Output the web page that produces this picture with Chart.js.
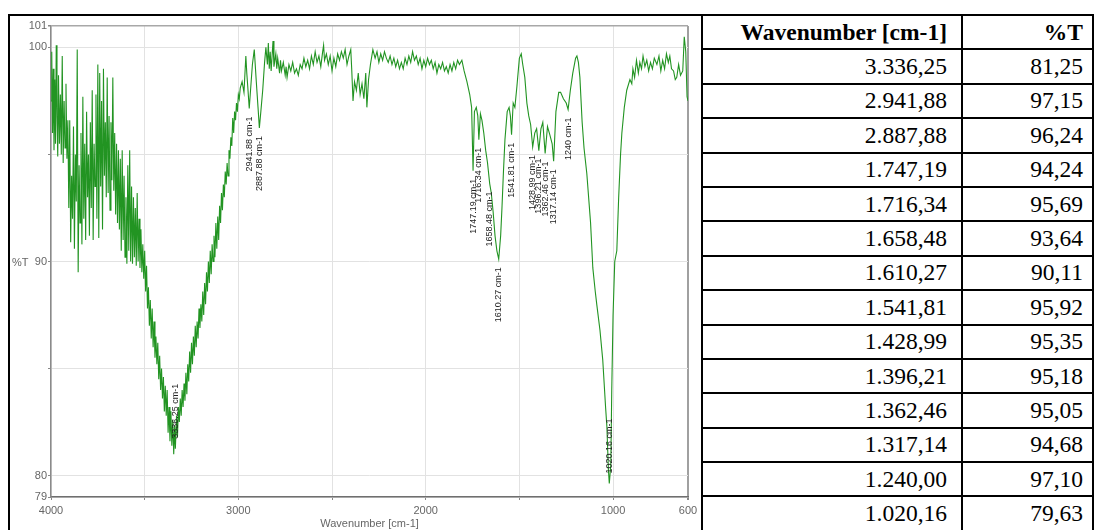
<!DOCTYPE html>
<html>
<head>
<meta charset="utf-8">
<script src="https://cdn.jsdelivr.net/npm/chart.js@4.4.1/dist/chart.umd.min.js"></script>
<style>
  html, body { margin: 0; padding: 0; background: #fff; overflow: hidden; }
  body { width: 1100px; height: 530px; position: relative; }
  #sheet {
    position: absolute; left: 8px; top: 14px;
    border-collapse: separate; border-spacing: 0; table-layout: fixed;
    border-left: 2px solid #000; border-top: 2px solid #000;
    font-family: "Liberation Serif", "Times New Roman", serif;
    font-size: 23.5px; color: #000;
  }
  #sheet td, #sheet th {
    border-right: 2px solid #000; border-bottom: 2px solid #000;
    padding: 0 14px 0 0; text-align: right; white-space: nowrap;
    vertical-align: middle; overflow: hidden;
  }
  #sheet td.t, #sheet th.t { padding-right: 9px; }
  #sheet th { font-weight: bold; }
  #sheet tr { height: 34.4px; }
  #sheet td.plot { padding: 0; vertical-align: top; }
  #chartBox { position: absolute; left: 10px; top: 17px; width: 692px; height: 513px; }
  #spectrum { filter: blur(0.35px); }
</style>
</head>
<body>
<table id="sheet">
  <colgroup><col style="width:693px"><col style="width:260px"><col style="width:131px"></colgroup>
  <tbody id="rows"></tbody>
</table>
<div id="chartBox"><canvas id="spectrum" width="692" height="513"></canvas></div>

<script>
// ======================================
// DATA
// ======================================
// IR spectrum (wavenumber in cm-1, %T)
const wavenumber = [
  4000, 3996, 3992, 3988, 3984, 3980, 3976, 3972, 3968, 3964,
  3960, 3955, 3950, 3945, 3940, 3935, 3930, 3925, 3920, 3915,
  3910, 3905, 3900, 3895, 3890, 3885, 3880, 3875, 3870, 3865,
  3860, 3855, 3850, 3845, 3840, 3835, 3830, 3825, 3820, 3815,
  3810, 3805, 3800, 3795, 3790, 3785, 3780, 3775, 3770, 3765,
  3760, 3755, 3750, 3745, 3740, 3735, 3730, 3725, 3720, 3715,
  3710, 3705, 3700, 3695, 3690, 3685, 3680, 3675, 3670, 3665,
  3660, 3655, 3650, 3645, 3640, 3635, 3630, 3625, 3620, 3615,
  3610, 3605, 3600, 3595, 3590, 3585, 3580, 3575, 3570, 3565,
  3560, 3555, 3550, 3545, 3540, 3535, 3530, 3525, 3520, 3515,
  3510, 3505, 3500, 3495, 3490, 3485, 3480, 3475, 3470, 3465,
  3460, 3455, 3450, 3445, 3440, 3435, 3430, 3425, 3420, 3415,
  3410, 3405, 3400, 3395, 3390, 3385, 3380, 3375, 3370, 3365,
  3360, 3355, 3350, 3345, 3340, 3336.25, 3330, 3325, 3320, 3315,
  3310, 3305, 3300, 3295, 3290, 3285, 3280, 3275, 3270, 3265,
  3260, 3255, 3250, 3245, 3240, 3235, 3230, 3225, 3220, 3215,
  3210, 3205, 3200, 3195, 3190, 3185, 3180, 3175, 3170, 3165,
  3160, 3155, 3150, 3145, 3140, 3135, 3130, 3125, 3120, 3115,
  3110, 3105, 3100, 3095, 3090, 3085, 3080, 3075, 3070, 3065,
  3060, 3055, 3050, 3045, 3040, 3035, 3030, 3025, 3020, 3015,
  3010, 3005, 3000, 2995, 2990, 2980, 2970, 2960, 2955, 2950,
  2941.88, 2935, 2925, 2915, 2905, 2895, 2887.88, 2880, 2870, 2860,
  2853, 2845, 2840, 2835, 2830, 2825, 2820, 2815, 2810, 2800,
  2795, 2790, 2780, 2775, 2770, 2760, 2750, 2745, 2740, 2730,
  2720, 2710, 2700, 2690, 2680, 2670, 2660, 2650, 2640, 2630,
  2620, 2610, 2600, 2590, 2580, 2570, 2560, 2550, 2545, 2540,
  2530, 2520, 2510, 2500, 2490, 2480, 2470, 2460, 2450, 2440,
  2430, 2420, 2410, 2400, 2395, 2388, 2380, 2370, 2360, 2350,
  2340, 2330, 2320, 2314, 2305, 2295, 2282, 2270, 2260, 2250,
  2240, 2230, 2220, 2210, 2200, 2190, 2180, 2170, 2160, 2150,
  2140, 2130, 2120, 2110, 2100, 2090, 2080, 2070, 2060, 2050,
  2040, 2030, 2020, 2010, 2000, 1990, 1980, 1970, 1960, 1950,
  1940, 1930, 1920, 1910, 1900, 1890, 1880, 1870, 1860, 1850,
  1840, 1830, 1820, 1807, 1795, 1780, 1765, 1755, 1747.19, 1740,
  1730, 1722, 1716.34, 1708, 1700, 1690, 1680, 1670, 1658.48, 1650,
  1640, 1630, 1620, 1610.27, 1600, 1593, 1585, 1577, 1565, 1555,
  1548, 1541.81, 1533, 1524, 1513, 1500, 1490, 1482, 1471, 1460,
  1450, 1440, 1428.99, 1418, 1408, 1396.21, 1385, 1375, 1362.46, 1350,
  1337, 1325, 1317.14, 1305, 1290, 1280, 1265, 1250, 1240, 1228,
  1215, 1200, 1193, 1185, 1177, 1165, 1155, 1140, 1120, 1108,
  1095, 1087, 1070, 1055, 1040, 1033, 1025, 1020.16, 1012, 1007,
  1000, 991, 980, 970, 960, 953, 940, 927, 910, 900,
  894, 885, 875, 865, 857, 848, 840, 830, 820, 810,
  800, 790, 780, 766, 755, 745, 735, 725, 715, 705,
  697, 688, 677, 668, 660, 650, 640, 628, 620, 612,
  605, 600
];
const transmittance = [
  97.5, 99.8, 96.0, 99.0, 95.2, 98.5, 95.5, 100.1, 96.8, 94.9,
  98.7, 95.5, 97.8, 95.0, 99.6, 94.6, 97.5, 95.3, 98.3, 94.8,
  96.6, 92.5, 96.6, 90.9, 94.0, 92.0, 96.3, 90.6, 95.0, 92.8,
  99.9, 89.5, 94.5, 91.8, 96.0, 90.8, 97.7, 92.0, 95.5, 91.0,
  97.0, 93.0, 95.0, 91.2, 96.5, 92.5, 98.0, 91.0, 95.5, 93.5,
  97.8, 92.0, 99.2, 91.1, 98.8, 93.5, 97.5, 91.5, 99.0, 94.0,
  96.5, 93.0, 98.6, 93.2, 96.8, 92.4, 96.5, 93.8, 98.6, 93.3,
  96.0, 92.2, 95.5, 91.8, 95.2, 91.5, 94.8, 90.5, 95.2, 91.0,
  94.0, 90.2, 93.0, 89.9, 94.5, 90.5, 95.2, 90.0, 93.5, 89.9,
  93.0, 90.2, 92.5, 89.8, 93.2, 90.0, 92.0, 89.7, 91.5, 89.5,
  90.8, 89.2, 90.5, 88.6, 89.8, 87.8, 88.8, 87.0, 88.2, 86.4,
  87.8, 86.0, 87.2, 85.5, 86.5, 85.2, 86.2, 84.5, 85.6, 84.0,
  85.0, 83.6, 84.6, 83.0, 84.2, 82.8, 84.0, 82.0, 83.2, 81.6,
  83.0, 81.4, 82.6, 81.0, 82.3, 81.25, 82.8, 81.8, 83.2, 82.5,
  83.6, 82.8, 84.0, 83.2, 84.3, 83.5, 84.8, 83.8, 85.2, 84.4,
  85.8, 84.8, 86.2, 85.2, 86.5, 85.6, 87.0, 86.0, 87.2, 86.4,
  87.8, 86.9, 88.0, 87.2, 88.6, 87.5, 89.0, 88.0, 89.5, 88.6,
  90.0, 89.0, 90.5, 89.4, 90.8, 90.0, 91.2, 90.2, 91.8, 90.6,
  92.1, 91.0, 92.6, 91.8, 93.2, 92.4, 93.6, 93.0, 94.2, 93.6,
  94.6, 94.0, 95.2, 94.8, 95.8, 95.4, 96.7, 96.0, 97.0, 96.6,
  97.4, 97.0, 97.8, 97.6, 98.1, 98.4, 97.9, 99.6, 98.8, 98.2,
  97.15, 98.0, 99.2, 99.9, 98.5, 97.2, 96.24, 97.0, 98.0, 99.3,
  100.0, 99.2, 100.2, 99.0, 99.8, 98.9, 99.6, 100.3, 99.1, 99.7,
  99.0, 99.5, 98.8, 99.4, 98.9, 99.3, 98.7, 99.1, 98.6, 99.2,
  98.9, 99.3, 98.8, 99.0, 98.7, 99.2, 99.0, 99.5, 99.1, 99.4,
  99.0, 99.6, 99.2, 99.8, 99.3, 99.6, 99.1, 99.8, 100.1, 99.4,
  99.7, 99.2, 99.6, 98.9, 99.5, 99.1, 99.7, 99.4, 99.8, 99.5,
  99.9, 99.2, 99.6, 99.9, 99.0, 97.5, 98.4, 98.0, 98.8, 97.8,
  98.3, 97.6, 98.8, 97.2, 98.5, 99.2, 99.9, 99.5, 99.8, 99.3,
  99.7, 99.4, 99.8, 99.5, 99.3, 99.6, 99.2, 99.5, 99.1, 99.4,
  99.0, 99.3, 99.0, 99.5, 99.2, 99.6, 99.3, 99.8, 99.4, 99.6,
  99.2, 99.5, 99.0, 99.4, 99.1, 99.5, 99.2, 99.4, 99.0, 99.3,
  98.8, 99.2, 99.0, 99.3, 98.9, 99.1, 98.8, 99.2, 98.9, 99.3,
  99.0, 99.4, 99.2, 99.4, 98.9, 98.4, 97.8, 97.2, 94.24, 97.0,
  97.2, 96.8, 95.69, 96.9, 96.6, 96.0, 95.2, 94.6, 93.64, 93.2,
  92.3, 91.2, 90.5, 90.11, 91.2, 92.5, 94.2, 95.7, 97.0, 97.2,
  96.8, 95.92, 97.4, 97.2, 98.2, 99.5, 99.7, 99.2, 98.6, 97.4,
  96.8, 96.4, 95.35, 96.0, 96.2, 95.18, 96.2, 96.5, 95.05, 96.3,
  95.9, 95.5, 94.68, 97.0, 97.9, 97.9, 97.6, 97.4, 97.10, 98.0,
  98.8, 99.5, 99.6, 99.3, 98.6, 96.5, 95.3, 94.1, 91.8, 89.7,
  88.6, 88.0, 86.8, 85.4, 83.2, 82.3, 80.3, 79.63, 80.5, 84.0,
  87.5, 90.0, 90.5, 93.0, 95.0, 96.0, 97.2, 98.0, 98.5, 98.3,
  99.0, 98.6, 99.4, 98.8, 99.3, 99.0, 99.6, 99.1, 99.4, 98.9,
  99.3, 99.0, 99.5, 99.2, 99.6, 98.9, 99.4, 99.0, 99.7, 99.3,
  99.6, 99.0, 98.9, 98.5, 98.6, 99.2, 98.7, 98.9, 100.5, 99.8,
  97.7, 97.5
];

// picked peaks (also the table on the right)
const peakWn = [3336.25, 2941.88, 2887.88, 1747.19, 1716.34, 1658.48, 1610.27,
                1541.81, 1428.99, 1396.21, 1362.46, 1317.14, 1240.00, 1020.16];
const peakT = [81.25, 97.15, 96.24, 94.24, 95.69, 93.64, 90.11,
               95.92, 95.35, 95.18, 95.05, 94.68, 97.10, 79.63];

// axis ticks
const xTicks = [4000, 3500, 3000, 2500, 2000, 1500, 1000, 600];
const xLabeled = [4000, 3000, 2000, 1000, 600];
const yTicks = [79, 80, 85, 90, 95, 100, 101];
const yLabeled = [79, 80, 90, 100, 101];

// ======================================
// TABLE
// ======================================
const euro = (v) => {
    const [int, dec] = v.toFixed(2).split(".");
    return int.replace(/\B(?=(\d{3})+(?!\d))/g, ".") + "," + dec;
};

const rows = document.getElementById("rows");
let html = '<tr><td class="plot" rowspan="' + (peakWn.length + 1) + '"></td>' +
           '<th>Wavenumber [cm-1]</th><th class="t">%T</th></tr>';
peakWn.forEach((wn, i) => {
    html += `<tr><td>${euro(wn)}</td><td class="t">${euro(peakT[i])}</td></tr>`;
});
rows.innerHTML = html;

// ======================================
// CHART
// ======================================
if (wavenumber.length !== transmittance.length) console.warn("length mismatch");
const points = wavenumber.map((wn, i) => ({ x: wn, y: transmittance[i] }));

const peakText = (wn) => (Number.isInteger(wn) ? String(wn) : wn.toFixed(2)) + " cm-1";

const extras = {
    id: "extras",
    afterDatasetsDraw(chart) {
        const { ctx, chartArea, scales: { x, y } } = chart;
        ctx.save();
        ctx.font = '9px "Liberation Sans", Arial, sans-serif';
        ctx.fillStyle = "#222";
        ctx.textBaseline = "middle";
        peakWn.forEach((wn, i) => {
            const px = x.getPixelForValue(wn);
            const py = y.getPixelForValue(peakT[i]);
            const text = peakText(wn);
            const w = ctx.measureText(text).width;
            ctx.save();
            ctx.translate(px, py);
            ctx.rotate(-Math.PI / 2);
            if (py + 8 + w < chartArea.bottom) {
                ctx.textAlign = "right";
                ctx.fillText(text, -8, 0);
            } else {
                ctx.textAlign = "left";
                ctx.fillText(text, 10, 0);
            }
            ctx.restore();
        });

        // axis titles
        ctx.fillStyle = "#666";
        ctx.font = '11px "Liberation Sans", Arial, sans-serif';
        ctx.textAlign = "center";
        ctx.fillText("Wavenumber [cm-1]", (chartArea.left + chartArea.right) / 2, chart.height - 6);
        ctx.textAlign = "left";
        ctx.fillText("%T", 2, y.getPixelForValue(90) + 1);
        ctx.restore();
    }
};

const tickFont = { family: '"Liberation Sans", Arial, sans-serif', size: 11 };

new Chart(document.getElementById("spectrum"), {
    type: "line",
    data: {
        datasets: [{
            data: points,
            borderColor: "#229422",
            borderWidth: 1.1,
            pointRadius: 0,
            tension: 0,
            fill: false
        }]
    },
    options: {
        responsive: false,
        animation: false,
        devicePixelRatio: 1,
        layout: { padding: { top: 9, right: 14, left: 0, bottom: 0 } },
        plugins: { legend: { display: false }, tooltip: { enabled: false } },
        scales: {
            x: {
                type: "linear",
                reverse: true,
                min: 600,
                max: 4000,
                afterBuildTicks: (s) => { s.ticks = xTicks.map(v => ({ value: v })); },
                afterFit: (s) => { s.height = 33; },
                ticks: {
                    autoSkip: false, maxRotation: 0, padding: 4,
                    color: "#666", font: tickFont,
                    callback: (v) => xLabeled.includes(v) ? String(v) : ""
                },
                grid: {
                    color: (c) => (c.tick && c.tick.value === 600) ? "#a0a0a0" : "#e2e2e2",
                    lineWidth: (c) => (c.tick && c.tick.value === 600) ? 2 : 1,
                    tickLength: 3,
                    tickColor: "#888"
                },
                border: { color: "#6f6f6f", width: 1.5 }
            },
            y: {
                min: 79,
                max: 101,
                afterBuildTicks: (s) => { s.ticks = yTicks.map(v => ({ value: v })); },
                afterFit: (s) => { s.width = 41; },
                ticks: {
                    autoSkip: false, padding: 1,
                    color: "#666", font: tickFont,
                    callback: (v) => yLabeled.includes(v) ? String(v) : ""
                },
                grid: {
                    color: (c) => (c.tick && c.tick.value === 101) ? "#a8a8a8" : "#e2e2e2",
                    lineWidth: (c) => (c.tick && c.tick.value === 101) ? 1.5 : 1,
                    tickLength: 3,
                    tickColor: "#888"
                },
                border: { color: "#8a8a8a", width: 1.5 }
            }
        }
    },
    plugins: [extras]
});
</script>
</body>
</html>
